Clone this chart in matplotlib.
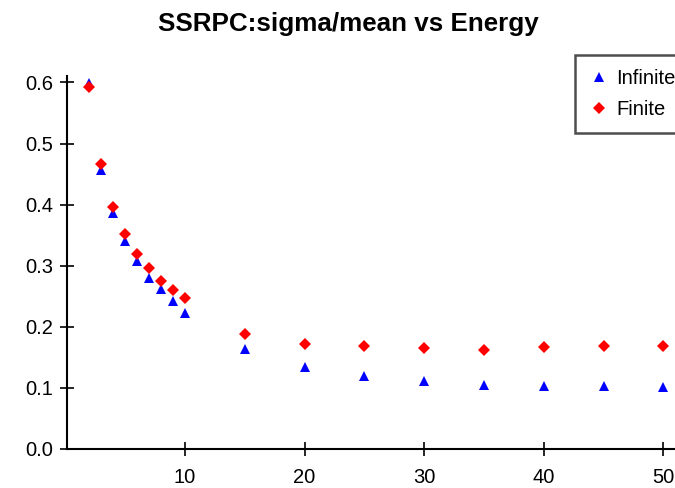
import matplotlib
matplotlib.use("Agg")
import matplotlib.pyplot as plt
from matplotlib.lines import Line2D

plt.rcParams['font.family'] = ['Liberation Sans', 'DejaVu Sans']

energy = [2, 3, 4, 5, 6, 7, 8, 9, 10, 15, 20, 25, 30, 35, 40, 45, 50]
infinite = [0.599, 0.457, 0.386, 0.340, 0.308, 0.280, 0.262, 0.242, 0.223,
            0.164, 0.134, 0.119, 0.111, 0.105, 0.103, 0.103, 0.101]
finite = [0.592, 0.466, 0.396, 0.352, 0.319, 0.296, 0.275, 0.260, 0.247,
          0.188, 0.172, 0.169, 0.165, 0.162, 0.167, 0.169, 0.169]
xticks = [10, 20, 30, 40, 50]
yticks = [0.0, 0.1, 0.2, 0.3, 0.4, 0.5, 0.6]

W, H = 675, 488
fig = plt.figure(figsize=(W / 100, H / 100), dpi=100)
left, bottom, top, right = 66.7, 449, 76, 710
ax = fig.add_axes([left / W, (H - bottom) / H, (right - left) / W, (bottom - top) / H])

ax.plot(energy, infinite, linestyle='none', marker='^', color='#0000ff', markersize=7.8, markeredgewidth=0)
ax.plot(energy, finite, linestyle='none', marker='D', color='#ff0000', markersize=6.2, markeredgewidth=0)

px_per_unit = 11.96
x0 = 65.4
ax.set_xlim((left - x0) / px_per_unit, (right - x0) / px_per_unit)
ax.set_ylim(0, (bottom - top) / 611.0)
ax.set_xticks(xticks)
ax.set_yticks(yticks)
ax.set_yticklabels([f"{v:.1f}" for v in yticks])

for s in ['top', 'right']:
    ax.spines[s].set_visible(False)
for s in ['left', 'bottom']:
    ax.spines[s].set_linewidth(1.5)
ax.tick_params(direction='inout', length=10, width=1.2, labelsize=14.5, colors='black')
ax.tick_params(axis='y', pad=5)
ax.tick_params(axis='x', pad=8.5)

fig.text(348 / W, 1 - 24 / H, "SSRPC:sigma/mean vs Energy", ha='center', va='center',
         fontsize=18.7, fontweight='bold')

handles = [Line2D([], [], linestyle='none', marker='^', color='#0000ff', markersize=7.8, markeredgewidth=0),
           Line2D([], [], linestyle='none', marker='D', color='#ff0000', markersize=6.2, markeredgewidth=0)]
leg = fig.legend(handles, ["Infinite", "Finite"], loc='upper left',
                 bbox_to_anchor=(575 / W, 1 - 55 / H), fontsize=14.5, frameon=True,
                 fancybox=False, edgecolor='#222222', borderpad=0.7, handletextpad=0.35,
                 labelspacing=0.6, handlelength=1.0, borderaxespad=0)
leg.get_frame().set_linewidth(1.8)

fig.savefig("out.png", dpi=100)
